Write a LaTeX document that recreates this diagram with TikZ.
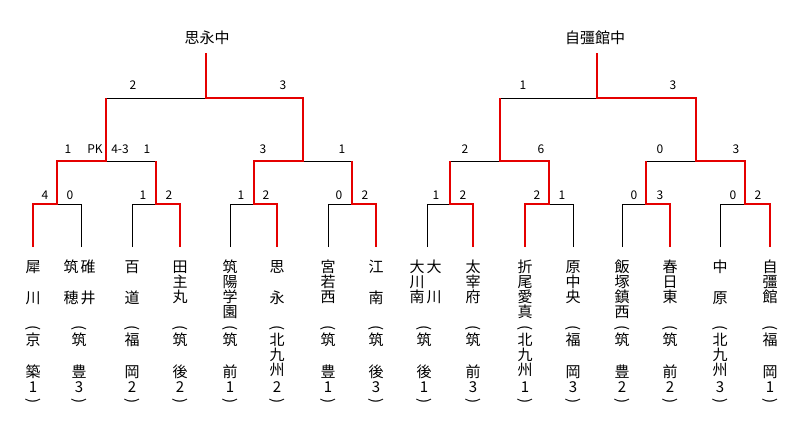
\documentclass[tikz,border=0pt]{standalone}
\usepackage{fontspec}
\setmainfont{Noto Sans CJK JP}
\begin{document}
\begin{tikzpicture}[x=1pt,y=-1pt,
  ln/.style={line width=0.9pt,black},
  win/.style={line width=2pt,red!90!black,line join=miter},
  ch/.style={inner sep=0pt,font=\fontsize{15}{16}\selectfont},
  sc/.style={inner sep=0pt,font=\fontsize{12}{13}\selectfont},
  ttl/.style={inner sep=0pt,font=\fontsize{15}{16}\selectfont}]
\useasboundingbox (0,0) rectangle (800,428);
\newcommand\vcol[2]{\foreach \yy/\cc in {#2} \node[ch] at (#1,\yy) {\cc};}
\newcommand\prefcol[3]{\node[ch,rotate=-90] at (#1,328) {(};\vcol{#1}{#2}\node[ch] at (#1,387) {#3};\node[ch,rotate=-90] at (#1,401) {)};}
% leaves
\foreach \i/\x in {1/33,2/81,3/132,4/180,5/230,6/277,7/328,8/376,9/427,10/473,11/525,12/573,13/622,14/670,15/720,16/770}
  \coordinate (l\i) at (\x,247);
\foreach \i/\x in {1/57,2/156,3/254,4/352,5/450,6/549,7/646,8/745}
  \coordinate (a\i) at (\x,161);
\foreach \i/\x in {1/106,2/303,3/500,4/696}
  \coordinate (b\i) at (\x,98);
\coordinate (c1) at (206,53);
\coordinate (c2) at (597,53);
% black bracket
\foreach \i in {1,...,8}{
  \pgfmathtruncatemacro\p{2*\i-1}\pgfmathtruncatemacro\q{2*\i}
  \draw[ln] (l\p) -- ++(0,-43) -| (a\i);
  \draw[ln] (l\q) -- ++(0,-43) -| (a\i);}
\foreach \i in {1,...,4}{
  \pgfmathtruncatemacro\p{2*\i-1}\pgfmathtruncatemacro\q{2*\i}
  \draw[ln] (a\p) -| (b\i);
  \draw[ln] (a\q) -| (b\i);}
\draw[ln] (b1) -| (c1); \draw[ln] (b2) -| (c1);
\draw[ln] (b3) -| (c2); \draw[ln] (b4) -| (c2);
% winners
\draw[win] (l1) -- ++(0,-43) -| (a1) -| (b1);
\draw[win] (l4) -- ++(0,-43) -| (a2);
\draw[win] (l6) -- ++(0,-43) -| (a3) -| (b2) -| (c1);
\draw[win] (l8) -- ++(0,-43) -| (a4);
\draw[win] (l10) -- ++(0,-43) -| (a5);
\draw[win] (l11) -- ++(0,-43) -| (a6) -| (b3);
\draw[win] (l14) -- ++(0,-43) -| (a7);
\draw[win] (l16) -- ++(0,-43) -| (a8) -| (b4) -| (c2);
% titles
\node[ttl] (t1) at (207,38) {思永中};
\node[ttl] (t2) at (595,38) {自彊館中};
% scores
\foreach \x/\s in {45/4,70/0,143/1,169/2,241/1,266/2,339/0,365/2,436/1,463/2,537/2,562/1,634/0,660/3,733/0,758/2}
  \node[sc] at (\x,195) {\s};
\foreach \x/\s in {68/1,95/PK,120/4-3,147/1,263/3,342/1,465/2,541/6,660/0,736/3}
  \node[sc] at (\x,149) {\s};
\foreach \x/\s in {133/2,283/3,523/1,673/3}
  \node[sc] at (\x,85) {\s};
% team names
\vcol{33}{267/犀,298/川}\prefcol{33}{340/京,372/築}{1}
\vcol{88}{267/碓,298/井}\vcol{71}{267/筑,298/穂}\prefcol{79}{340/筑,372/豊}{3}
\vcol{132}{267/百,298/道}\prefcol{132}{340/福,372/岡}{2}
\vcol{180}{267/田,282/主,297/丸}\prefcol{180}{340/筑,372/後}{2}
\vcol{230}{267/筑,282/陽,297/学,312/園}\prefcol{230}{340/筑,372/前}{1}
\vcol{277}{267/思,298/永}\prefcol{277}{340/北,355/九,370/州}{2}
\vcol{328}{267/宮,282/若,297/西}\prefcol{328}{340/筑,372/豊}{1}
\vcol{376}{267/江,298/南}\prefcol{376}{340/筑,372/後}{3}
\vcol{434}{267/大,297/川}\vcol{417}{267/大,282/川,297/南}\prefcol{424}{340/筑,372/後}{1}
\vcol{473}{267/太,282/宰,297/府}\prefcol{473}{340/筑,372/前}{3}
\vcol{525}{267/折,282/尾,297/愛,312/真}\prefcol{525}{340/北,355/九,370/州}{1}
\vcol{573}{267/原,282/中,297/央}\prefcol{573}{340/福,372/岡}{3}
\vcol{622}{267/飯,282/塚,297/鎮,312/西}\prefcol{622}{340/筑,372/豊}{2}
\vcol{670}{267/春,282/日,297/東}\prefcol{670}{340/筑,372/前}{2}
\vcol{720}{267/中,298/原}\prefcol{720}{340/北,355/九,370/州}{3}
\vcol{770}{267/自,282/彊,297/館}\prefcol{770}{340/福,372/岡}{1}
\end{tikzpicture}
\end{document}
